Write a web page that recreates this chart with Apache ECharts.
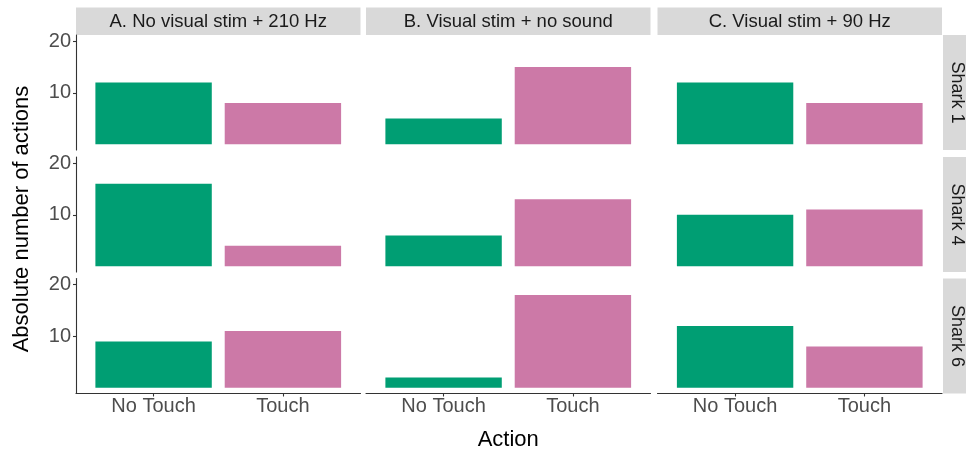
<!DOCTYPE html>
<html>
<head>
<meta charset="utf-8">
<script src="https://cdn.jsdelivr.net/npm/echarts@6/dist/echarts.min.js"></script>
<style>
  html, body { margin: 0; padding: 0; background: #fff; }
  #chart { width: 966px; height: 453px; }
</style>
</head>
<body>
<div id="chart"></div>
<script>
// ---- data ----
const conditions = ['A. No visual stim + 210 Hz', 'B. Visual stim + no sound', 'C. Visual stim + 90 Hz'];
const sharks = ['Shark 1', 'Shark 4', 'Shark 6'];
const actions = ['No Touch', 'Touch'];
const yTicks = [10, 20];
// values per condition (A, B, C)
const shark1NoTouch = [12, 5, 12];
const shark1Touch   = [8, 15, 8];
const shark4NoTouch = [16, 6, 10];
const shark4Touch   = [4, 13, 11];
const shark6NoTouch = [9, 2, 12];
const shark6Touch   = [11, 18, 8];

const noTouchRows = [shark1NoTouch, shark4NoTouch, shark6NoTouch];
const touchRows = [shark1Touch, shark4Touch, shark6Touch];

// ---- layout ----
const colLeft = [76, 366, 657.5];
const colWidth = 284.5;
const rowTop = [35, 157, 278.5];
const rowHeight = 115;
const colors = ['#009E73', '#CC79A7'];
const barW = colWidth / 2.2 * 0.9;
const fontFam = '"Liberation Sans", Arial, sans-serif';

const grids = [], xAxes = [], yAxes = [], series = [], graphics = [];
let idx = 0;
for (let r = 0; r < 3; r++) {
  for (let c = 0; c < 3; c++) {
    grids.push({ left: colLeft[c], top: rowTop[r], width: colWidth, height: rowHeight, containLabel: false });
    const bottomRow = r === 2;
    xAxes.push({
      gridIndex: idx, type: 'value', min: 0.4, max: 2.6,
      splitLine: { show: false },
      axisLine: { show: bottomRow, onZero: false, lineStyle: { color: '#333333', width: 1.1 } },
      axisTick: { show: bottomRow, customValues: [1, 2], length: 3, lineStyle: { color: '#333333', width: 1.1 } },
      axisLabel: { show: bottomRow, customValues: [1, 2], formatter: v => actions[Math.round(v) - 1],
        color: '#4D4D4D', fontSize: 20, fontFamily: fontFam, margin: 3 },
      name: (bottomRow && c === 1) ? 'Action' : '',
      nameLocation: 'middle', nameGap: 35,
      nameTextStyle: { color: '#000000', fontSize: 22, fontFamily: fontFam }
    });
    const leftCol = c === 0;
    yAxes.push({
      gridIndex: idx, type: 'value', min: -1.1, max: 21.2,
      splitLine: { show: false },
      axisLine: { show: leftCol, onZero: false, lineStyle: { color: '#333333', width: 1.1 } },
      axisTick: { show: leftCol, customValues: yTicks, length: 3, lineStyle: { color: '#333333', width: 1.1 } },
      axisLabel: { show: leftCol, customValues: yTicks, color: '#4D4D4D', fontSize: 20, fontFamily: fontFam, margin: 5 }
    });
    series.push({
      type: 'bar', xAxisIndex: idx, yAxisIndex: idx, barWidth: barW, silent: true,
      data: [
        { value: [1, noTouchRows[r][c]], itemStyle: { color: colors[0] } },
        { value: [2, touchRows[r][c]], itemStyle: { color: colors[1] } }
      ]
    });
    idx++;
  }
}

// y-axis title
graphics.push({ type: 'text', x: 22, y: 219, rotation: Math.PI / 2,
  style: { text: 'Absolute number of actions', fill: '#000000', font: '22px ' + fontFam, align: 'center', verticalAlign: 'middle' }, silent: true });

// top strips
for (let c = 0; c < 3; c++) {
  graphics.push({ type: 'rect', shape: { x: colLeft[c], y: 7.5, width: colWidth, height: 27.5 }, style: { fill: '#D9D9D9' }, silent: true });
  graphics.push({ type: 'text', x: colLeft[c] + colWidth / 2, y: 21.5,
    style: { text: conditions[c], fill: '#1A1A1A', font: '18.5px ' + fontFam, align: 'center', verticalAlign: 'middle' }, silent: true });
}
// right strips
for (let r = 0; r < 3; r++) {
  graphics.push({ type: 'rect', shape: { x: 943, y: rowTop[r], width: 30, height: rowHeight }, style: { fill: '#D9D9D9' }, silent: true });
  graphics.push({ type: 'text', x: 956.5, y: rowTop[r] + rowHeight / 2, rotation: -Math.PI / 2,
    style: { text: sharks[r], fill: '#1A1A1A', font: '18px ' + fontFam, align: 'center', verticalAlign: 'middle' }, silent: true });
}

const chart = echarts.init(document.getElementById('chart'), null, { renderer: 'canvas' });
chart.setOption({
  animation: false,
  backgroundColor: '#ffffff',
  grid: grids, xAxis: xAxes, yAxis: yAxes, series: series, graphic: graphics
});
</script>
</body>
</html>
